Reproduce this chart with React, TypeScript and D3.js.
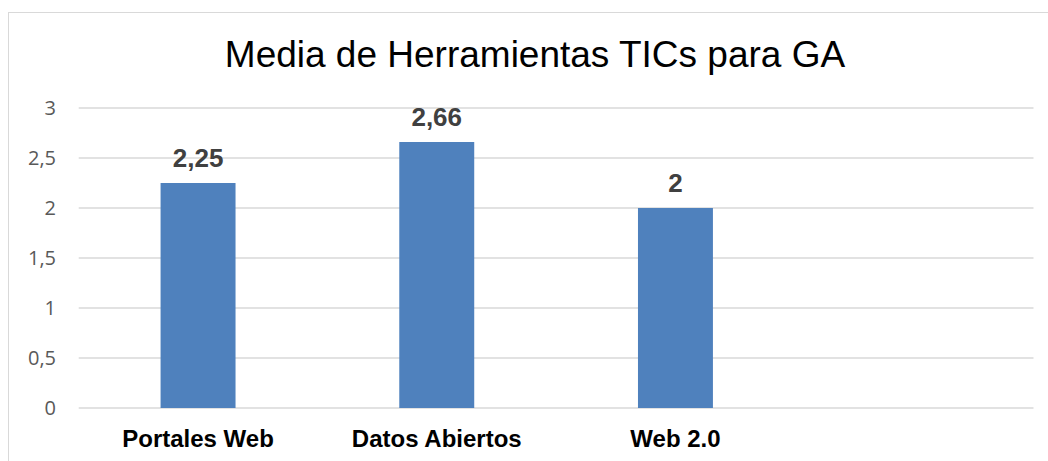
import React from "react";
import * as d3 from "d3";

const categories = ["Portales Web", "Datos Abiertos", "Web 2.0", ""];
const values: (number | null)[] = [2.25, 2.66, 2.0, null];
const labels = ["2,25", "2,66", "2", ""];
const yTicks = [0, 0.5, 1, 1.5, 2, 2.5, 3];
const title = "Media de Herramientas TICs para GA";

export default function App() {
  const W = 1048;
  const H = 461;
  const left = 78.7;
  const right = 1033.5;
  const top = 108;
  const bottom = 408;

  const x = d3.scaleBand<string>().domain(categories.map((c, i) => String(i))).range([left, right]).padding(0);
  const y = d3.scaleLinear().domain([0, 3]).range([bottom, top]);
  const bw = x.bandwidth() * 0.314;
  const fmt = (v: number) => String(v).replace(".", ",");

  return (
    <svg width={W} height={H} style={{ position: "absolute", left: 0, top: 0, display: "block", background: "#fff" }}>
      <rect x={8.5} y={12.5} width={W + 10} height={H + 10} fill="#fff" stroke="#d9d9d9" strokeWidth={1} />
      <text x={535} y={67} textAnchor="middle" fontFamily="'Liberation Sans', Arial, sans-serif" fontSize={37} fill="#000">
        {title}
      </text>
      {yTicks.map((t) => (
        <g key={t}>
          <line x1={left} x2={right} y1={y(t)} y2={y(t)} stroke="#d9d9d9" strokeWidth={1.5} />
          <text x={56} y={y(t) + 7} textAnchor="end" fontFamily="'Open Sans', sans-serif" fontSize={20} fill="#595959">
            {fmt(t)}
          </text>
        </g>
      ))}
      {values.map((v, i) => {
        if (v == null) return null;
        const cx = (x(String(i)) as number) + x.bandwidth() / 2;
        return (
          <g key={i}>
            <rect x={cx - bw / 2} y={y(v)} width={bw} height={bottom - y(v)} fill="#4f81bd" />
            <text x={cx} y={y(v) - 16.5} textAnchor="middle" fontFamily="'Liberation Sans', Arial, sans-serif" fontWeight="bold" fontSize={26} fill="#404040">
              {labels[i]}
            </text>
          </g>
        );
      })}
      {categories.map((c, i) => {
        const cx = (x(String(i)) as number) + x.bandwidth() / 2;
        return (
          <text key={i} x={cx} y={446.5} textAnchor="middle" fontFamily="'Liberation Sans', Arial, sans-serif" fontWeight="bold" fontSize={24} fill="#000">
            {c}
          </text>
        );
      })}
    </svg>
  );
}
